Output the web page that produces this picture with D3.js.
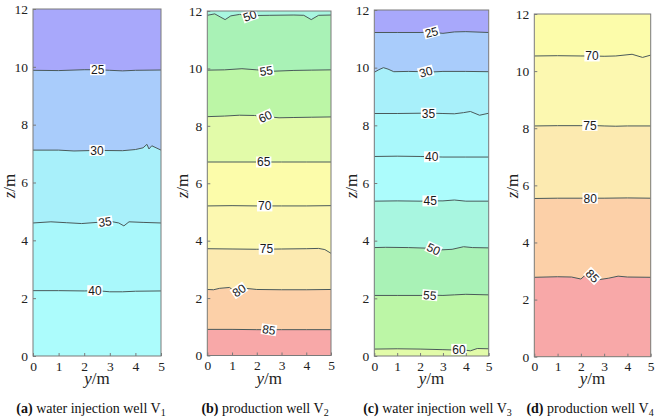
<!DOCTYPE html>
<html><head><meta charset="utf-8">
<script src="https://cdn.jsdelivr.net/npm/d3@7"></script>
<style>body{margin:0;background:#fff}svg{display:block}</style>
</head><body><svg id="chart" width="660" height="418"></svg>
<script>
// ---------- data ----------
const zTicks = [0, 2, 4, 6, 8, 10, 12];
const yTicks = [0, 1, 2, 3, 4, 5];
const captionTags = ["(a)", "(b)", "(c)", "(d)"];
const captionTexts = ["water injection well V", "production well V", "water injection well V", "production well V"];
const captionSubs = ["1", "2", "3", "4"];

// temperature bands (lower bounds) and colours
const bandBreaks = [25, 30, 35, 40, 45, 50, 55, 60, 65, 70, 75, 80, 85];
const bandColors = ["#a8a8fb", "#a9ccfb", "#a8f0fa", "#a9f8fb", "#acfcfc", "#a8f6e0", "#a9f2b6", "#bcf6a6",
                    "#e2fba9", "#fcfcaa", "#fcf8b0", "#fceab0", "#fcd0a8", "#f8a8a8"];

// panel (a): contour levels, lines as [y, z], label positions (y) and angles
const levelsA = [25, 30, 35, 40];
const linesA = [
  [[0,9.88],[1,9.87],[2,9.9],[2.5,9.9],[3,9.88],[3.5,9.86],[4,9.88],[5,9.89]],
  [[0,7.12],[1,7.12],[1.6,7.09],[2.5,7.11],[3.5,7.1],[4,7.14],[4.3,7.2],[4.45,7.32],[4.53,7.16],[4.64,7.27],[5,7.12]],
  [[0,4.6],[0.7,4.64],[1.3,4.61],[1.9,4.58],[2.5,4.62],[3.0,4.66],[3.35,4.6],[3.55,4.5],[3.75,4.64],[4.3,4.62],[5,4.6]],
  [[0,2.26],[1,2.26],[2,2.25],[2.5,2.26],[3,2.22],[3.5,2.22],[4,2.24],[5,2.25]]
];
const labelYA = [2.53, 2.5, 2.81, 2.42];
const labelAngA = [0, 0, -8, 0];

// panel (b)
const levelsB = [50, 55, 60, 65, 70, 75, 80, 85];
const linesB = [
  [[0,11.85],[0.3,11.9],[0.55,11.78],[0.72,11.7],[0.95,11.83],[1.3,11.88],[1.7,11.84],[2.5,11.85],[3.5,11.86],[3.9,11.85],[4.2,11.7],[4.5,11.85],[5,11.86]],
  [[0,9.94],[0.7,9.95],[1.4,9.99],[2.0,9.95],[2.6,9.9],[3.5,9.93],[4.2,9.94],[5,9.95]],
  [[0,8.32],[0.7,8.34],[1.3,8.37],[1.9,8.36],[2.4,8.32],[2.9,8.28],[3.5,8.29],[4.2,8.3],[5,8.31]],
  [[0,6.74],[1,6.74],[2,6.74],[3,6.74],[4,6.74],[5,6.74]],
  [[0,5.21],[1,5.22],[2,5.21],[3,5.21],[4,5.21],[5,5.22]],
  [[0,3.72],[1,3.71],[2,3.7],[3,3.71],[4,3.72],[4.5,3.73],[4.75,3.69],[5,3.56]],
  [[0,2.3],[0.25,2.29],[0.5,2.34],[0.9,2.37],[1.05,2.27],[1.3,2.27],[1.55,2.34],[2.0,2.3],[3,2.29],[4,2.29],[5,2.3]],
  [[0,0.91],[1,0.91],[2,0.9],[3,0.9],[4,0.9],[5,0.9]]
];
const labelYB = [1.72, 2.38, 2.34, 2.28, 2.32, 2.39, 1.28, 2.49];
const labelAngB = [-20, -8, -25, 0, 0, 0, -35, 8];

// panel (c)
const levelsC = [25, 30, 35, 40, 45, 50, 55, 60];
const linesC = [
  [[0,11.22],[1,11.22],[2,11.22],[2.5,11.23],[3,11.19],[3.5,11.24],[4,11.25],[5,11.22]],
  [[0,9.84],[0.2,9.93],[0.4,10.0],[0.6,9.95],[0.85,9.86],[1.5,9.87],[2.1,9.86],[2.5,9.85],[3.0,9.87],[4,9.87],[5,9.86]],
  [[0,8.41],[1,8.41],[2,8.42],[2.5,8.42],[3,8.41],[3.5,8.4],[3.9,8.44],[4.2,8.48],[4.6,8.35],[5,8.42]],
  [[0,6.92],[1,6.93],[2,6.92],[3,6.9],[4,6.9],[5,6.9]],
  [[0,5.37],[1,5.38],[2,5.37],[2.5,5.38],[3,5.38],[3.5,5.41],[4,5.37],[5,5.37]],
  [[0,3.76],[0.5,3.77],[1.5,3.76],[2.3,3.74],[2.9,3.68],[3.4,3.7],[3.9,3.79],[4.3,3.76],[5,3.75]],
  [[0,2.1],[1,2.1],[2,2.1],[2.5,2.11],[3,2.1],[3.5,2.12],[4,2.14],[5,2.12]],
  [[0,0.24],[1,0.25],[2,0.24],[3,0.22],[3.4,0.21],[3.7,0.23],[4.2,0.18],[4.5,0.26],[5,0.25]]
];
const labelYC = [2.5, 2.25, 2.37, 2.51, 2.44, 2.59, 2.43, 3.7];
const labelAngC = [-15, -15, 0, 0, 0, 25, 5, 0];

// panel (d)
const levelsD = [70, 75, 80, 85];
const linesD = [
  [[0,10.53],[1,10.54],[2,10.53],[2.5,10.53],[3,10.52],[3.5,10.53],[4.2,10.59],[4.65,10.48],[5,10.56]],
  [[0,8.08],[1,8.09],[2,8.09],[2.4,8.1],[3,8.08],[3.5,8.07],[4,8.08],[5,8.08]],
  [[0,5.54],[1,5.55],[2,5.55],[3,5.55],[4,5.56],[5,5.55]],
  [[0,2.78],[1,2.8],[1.6,2.79],[2.0,2.72],[2.25,2.9],[2.45,2.85],[2.8,2.7],[3.2,2.75],[3.6,2.82],[4,2.79],[5,2.78]]
];
const labelYD = [2.48, 2.39, 2.4, 2.5];
const labelAngD = [0, 0, 0, 45];

// ---------- layout ----------
const frames = [
  {x0: 33,    x1: 161,   top: 9,  bot: 356,   zl: 15,  cap: 91},
  {x0: 207.3, x1: 331,   top: 11, bot: 355.5, zl: 188, cap: 265},
  {x0: 374.3, x1: 488.7, top: 10, bot: 356,   zl: 357, cap: 437.5},
  {x0: 534.3, x1: 650.7, top: 14, bot: 356.7, zl: 518, cap: 590}
];
const panels = [
  {levels: levelsA, lines: linesA, ly: labelYA, la: labelAngA},
  {levels: levelsB, lines: linesB, ly: labelYB, la: labelAngB},
  {levels: levelsC, lines: linesC, ly: labelYC, la: labelAngC},
  {levels: levelsD, lines: linesD, ly: labelYD, la: labelAngD}
];

const SERIF = "Liberation Serif";
const SANS = "Liberation Sans";
const color = d3.scaleThreshold().domain(bandBreaks).range(bandColors);
const svg = d3.select("#chart");

function interp(pts, y) {
  for (let i = 1; i < pts.length; i++) {
    if (y <= pts[i][0]) {
      const t = (y - pts[i-1][0]) / (pts[i][0] - pts[i-1][0]);
      return pts[i-1][1] + t * (pts[i][1] - pts[i-1][1]);
    }
  }
  return pts[pts.length-1][1];
}

panels.forEach((p, i) => {
  const f = frames[i];
  const x = d3.scaleLinear().domain([0, 5]).range([f.x0, f.x1]);
  const z = d3.scaleLinear().domain([0, 12]).range([f.bot, f.top]);
  const g = svg.append("g");
  const clipId = "clip" + i;
  g.append("clipPath").attr("id", clipId).append("rect")
    .attr("x", f.x0).attr("y", f.top).attr("width", f.x1 - f.x0).attr("height", f.bot - f.top);
  const plot = g.append("g").attr("clip-path", `url(#${clipId})`);

  // top band
  plot.append("rect").attr("x", f.x0).attr("y", f.top).attr("width", f.x1 - f.x0).attr("height", f.bot - f.top)
    .attr("fill", color(p.levels[0] - 2.5));
  const area = d3.area().x(d => x(d[0])).y0(z(0)).y1(d => z(d[1]));
  const line = d3.line().x(d => x(d[0])).y(d => z(d[1]));
  p.lines.forEach((pts, k) => {
    plot.append("path").attr("d", area(pts)).attr("fill", color(p.levels[k] + 2.5));
  });
  p.lines.forEach(pts => {
    plot.append("path").attr("d", line(pts)).attr("fill", "none")
      .attr("stroke", "#4a5a5a").attr("stroke-width", 1);
  });
  // labels
  p.lines.forEach((pts, k) => {
    const ly = p.ly[k];
    const lz = interp(pts, ly);
    const lg = plot.append("g").attr("transform", `translate(${x(ly)},${z(lz)}) rotate(${p.la[k]})`);
    const t = lg.append("text").attr("text-anchor", "middle").attr("dy", "0.36em")
      .style("font-family", SANS).style("font-size", "12px").attr("fill", "#1a1a1a").text(String(p.levels[k]));
    const w = t.node().getComputedTextLength();
    lg.insert("rect", "text").attr("x", -w/2 - 1).attr("y", -5.5).attr("width", w + 2).attr("height", 11)
      .attr("fill", "#fff");
  });

  // frame
  g.append("rect").attr("x", f.x0).attr("y", f.top).attr("width", f.x1 - f.x0).attr("height", f.bot - f.top)
    .attr("fill", "none").attr("stroke", "#7a7a7a").attr("stroke-width", 1);

  // axes
  const ax = g.append("g").attr("transform", `translate(0,${f.bot})`)
    .call(d3.axisBottom(x).tickValues(yTicks).tickSize(-3).tickPadding(5).tickFormat(d3.format("d")));
  const ay = g.append("g").attr("transform", `translate(${f.x0},0)`)
    .call(d3.axisLeft(z).tickValues(zTicks).tickSize(-3).tickPadding(5).tickFormat(d3.format("d")));
  [ax, ay].forEach(a => {
    a.select(".domain").remove();
    a.selectAll(".tick line").attr("stroke", "#7a7a7a");
    a.selectAll(".tick text").style("font-family", SERIF).style("font-size", "13.5px").attr("fill", "#222");
  });

  // axis titles
  const xt = g.append("text").attr("x", (f.x0 + f.x1) / 2).attr("y", 384)
    .attr("text-anchor", "middle").style("font-family", SERIF).style("font-size", "17px").attr("fill", "#222");
  xt.append("tspan").style("font-style", "italic").text("y");
  xt.append("tspan").text("/m");
  const zt = g.append("text").attr("transform", `translate(${f.zl},186) rotate(-90)`)
    .attr("text-anchor", "middle").style("font-family", SERIF).style("font-size", "17px").attr("fill", "#222");
  zt.append("tspan").style("font-style", "italic").text("z");
  zt.append("tspan").text("/m");

  // caption
  const ct = g.append("text").attr("x", f.cap).attr("y", 413)
    .attr("text-anchor", "middle").style("font-family", SERIF).style("font-size", "14px").attr("fill", "#111");
  ct.append("tspan").style("font-weight", "bold").text(captionTags[i]);
  ct.append("tspan").text(" " + captionTexts[i]);
  ct.append("tspan").style("font-size", "10px").attr("dy", 3).text(captionSubs[i]);
});
</script>
</body></html>
